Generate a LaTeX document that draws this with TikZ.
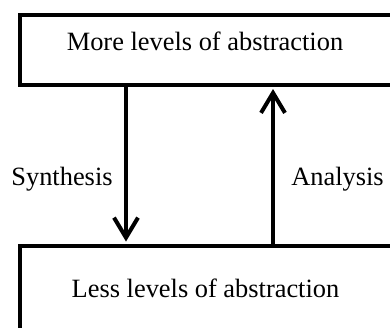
\documentclass[tikz,border=0pt]{standalone}
\usepackage{fontspec}
\setmainfont{Liberation Serif}
\usetikzlibrary{arrows.meta}
\begin{document}
\begin{tikzpicture}[x=1pt,y=-1pt,
  box/.style={draw, line width=4pt, rectangle, inner sep=0pt},
  lbl/.style={anchor=base, inner sep=0pt, font=\fontsize{26.4}{30}\selectfont},
  arr/.style={line width=4pt, -{Straight Barb[length=20pt,width=24pt]}, shorten >=2pt}]
\useasboundingbox (0,0) rectangle (390,327);
\clip (0,0) rectangle (390,327);
\node[box, minimum width=380pt, minimum height=70pt] (top) at (210,50) {};
\node[box, minimum width=380pt, minimum height=100pt] (bot) at (210,295.5) {};
\node[lbl] (toptext) at (205,50) {More levels of abstraction};
\node[lbl] (bottext) at (205.5,297.5) {Less levels of abstraction};
\coordinate (sx) at (126,0);
\coordinate (ax) at (273,0);
\draw[arr] (sx |- top.south) -- (sx |- bot.north);
\draw[arr] (ax |- bot.north) -- (ax |- top.south);
\node[lbl] (syn) at (62,185) {Synthesis};
\node[lbl] (ana) at (337.5,185) {Analysis};
\end{tikzpicture}
\end{document}
